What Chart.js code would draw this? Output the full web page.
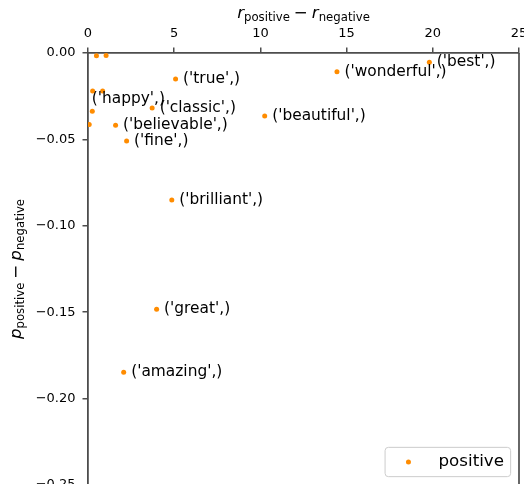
<!DOCTYPE html>
<html>
<head>
<meta charset="utf-8">
<script src="https://cdn.jsdelivr.net/npm/chart.js@4.4.0/dist/chart.umd.min.js"></script>
<style>
  html, body { margin: 0; padding: 0; overflow: hidden; background: #fff; }
  #wrap { width: 524px; height: 540px; }
</style>
</head>
<body>
<div id="wrap"><canvas id="chart" width="524" height="540"></canvas></div>
<script>
// words (empty = point drawn without an annotation)
const words = ["best", "wonderful", "beautiful", "true", "classic", "believable", "fine",
  "brilliant", "great", "amazing", "happy", "", "", "", "", "", ""];
// r_positive - r_negative
const rankDiff = [19.80, 14.44, 10.25, 5.08, 3.72, 1.60, 2.24,
  4.86, 3.98, 2.07, -0.22, 0.49, 1.05, 0.27, 0.85, 0.25, 0.07];
// p_positive - p_negative
const probDiff = [-0.0054, -0.0108, -0.0364, -0.0150, -0.0318, -0.0418, -0.0509,
  -0.0851, -0.1483, -0.1847, -0.0268, -0.0016, -0.0015, -0.0220, -0.0220, -0.0337, -0.0414];
const xTickValues = [0, 5, 10, 15, 20, 25];
const yTickValues = [0, -0.05, -0.10, -0.15, -0.20, -0.25];
const seriesName = "positive";

const FONT = "'DejaVu Sans', sans-serif";
const SPINE = "#4d4d4d";
const DOT = "#ff8c00";

const points = rankDiff.map((x, i) => ({ x: x, y: probDiff[i] }));

const fmtY = (v) => (v < -1e-9 ? "\u2212" : "") + Math.abs(v).toFixed(2);

// text like r_positive drawn at (x, y) baseline; returns width
function drawSubbed(ctx, parts, x, y, measureOnly) {
  let cx = x;
  for (const p of parts) {
    ctx.font = p.font;
    const w = ctx.measureText(p.text).width;
    if (!measureOnly) ctx.fillText(p.text, cx, y + (p.dy || 0));
    cx += w + (p.gap || 0);
  }
  return cx - x;
}

function mathParts(sym) {
  return [
    { text: sym, font: "italic 16.7px " + FONT },
    { text: "positive", font: "11.7px " + FONT, dy: 3.3, gap: 4 },
    { text: "\u2212", font: "16.7px " + FONT, gap: 4 },
    { text: sym, font: "italic 16.7px " + FONT },
    { text: "negative", font: "11.7px " + FONT, dy: 3.3 },
  ];
}

const decorPlugin = {
  id: "decor",
  afterDatasetsDraw(chart) {
    const ctx = chart.ctx;
    const meta = chart.getDatasetMeta(0);

    // annotations
    ctx.save();
    ctx.fillStyle = "#000";
    ctx.font = "15.4px " + FONT;
    ctx.textBaseline = "middle";
    ctx.textAlign = "left";
    meta.data.forEach((el, i) => {
      if (!words[i]) return;
      ctx.fillText("('" + words[i] + "',)", el.x + 7.5, el.y);
    });
    ctx.restore();
  },
  afterDraw(chart) {
    const ctx = chart.ctx;
    const a = chart.chartArea;
    ctx.save();
    // right spine
    ctx.strokeStyle = SPINE;
    ctx.lineWidth = 1.7;
    ctx.beginPath();
    ctx.moveTo(a.right, a.top);
    ctx.lineTo(a.right, a.bottom);
    ctx.stroke();

    // x axis title (top)
    ctx.fillStyle = "#000";
    ctx.textBaseline = "alphabetic";
    ctx.textAlign = "left";
    const xp = mathParts("r");
    const wx = drawSubbed(ctx, xp, 0, 0, true);
    drawSubbed(ctx, xp, (a.left + a.right) / 2 - wx / 2, 17.7);

    // y axis title (rotated)
    const yp = mathParts("p");
    const wy = drawSubbed(ctx, yp, 0, 0, true);
    ctx.translate(20.7, (a.top + a.bottom) / 2);
    ctx.rotate(-Math.PI / 2);
    drawSubbed(ctx, yp, -wy / 2, 0);
    ctx.restore();

    // legend, lower right inside axes
    const fs = 16.7;
    ctx.save();
    ctx.font = fs + "px " + FONT;
    const tw = ctx.measureText(seriesName).width;
    const pad = 0.4 * fs;
    const bw = pad * 2 + 2 * fs + 0.8 * fs + tw;
    const bh = 29.3;
    const bx = a.right - 0.5 * fs - bw;
    const by = a.bottom - 0.5 * fs - bh;
    ctx.fillStyle = "rgba(255,255,255,0.8)";
    ctx.strokeStyle = "#cccccc";
    ctx.lineWidth = 1;
    ctx.beginPath();
    ctx.roundRect(bx, by, bw, bh, 3.3);
    ctx.fill();
    ctx.stroke();
    ctx.fillStyle = DOT;
    ctx.beginPath();
    ctx.arc(bx + pad + fs, by + bh / 2, 2.5, 0, Math.PI * 2);
    ctx.fill();
    ctx.fillStyle = "#000";
    ctx.textBaseline = "middle";
    ctx.fillText(seriesName, bx + pad + 2.8 * fs, by + bh / 2);
    ctx.restore();
  },
};

new Chart(document.getElementById("chart"), {
  type: "scatter",
  data: {
    datasets: [
      {
        label: seriesName,
        data: points,
        backgroundColor: DOT,
        borderWidth: 0,
        pointRadius: 2.5,
        clip: 0,
      },
    ],
  },
  options: {
    responsive: false,
    animation: false,
    layout: { padding: { left: 0, top: 0, right: 5, bottom: 55 } },
    plugins: {
      legend: { display: false },
      tooltip: { enabled: false },
    },
    scales: {
      x: {
        type: "linear",
        position: "top",
        min: 0,
        max: 25,
        afterBuildTicks: (s) => { s.ticks = xTickValues.map((v) => ({ value: v })); },
        afterFit: (s) => { s.height = 53; s.paddingLeft = 0; s.paddingRight = 0; },
        grid: { drawOnChartArea: false, drawTicks: true, tickLength: 5.5, color: SPINE, lineWidth: 1.5 },
        border: { display: true, color: SPINE, width: 1.8 },
        ticks: { color: "#000", padding: 6, font: { family: FONT, size: 13 }, callback: (v) => String(v) },
      },
      y: {
        type: "linear",
        min: -0.25,
        max: 0,
        afterBuildTicks: (s) => { s.ticks = yTickValues.map((v) => ({ value: v })); },
        afterFit: (s) => { s.width = 88; s.paddingTop = 0; s.paddingBottom = 0; },
        grid: { drawOnChartArea: false, drawTicks: true, tickLength: 5.5, color: SPINE, lineWidth: 1.5 },
        border: { display: true, color: SPINE, width: 1.8 },
        ticks: { color: "#000", padding: 7, font: { family: FONT, size: 13 }, callback: fmtY },
      },
    },
  },
  plugins: [decorPlugin],
});
</script>
</body>
</html>
